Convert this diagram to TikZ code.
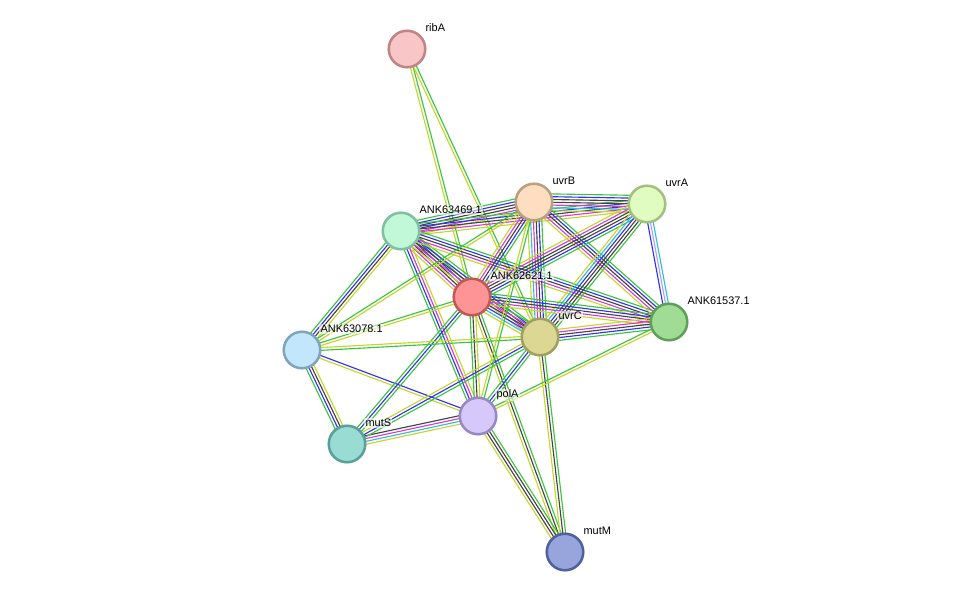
\documentclass[tikz,border=0pt]{standalone}
\usepackage{fontspec}
\setmainfont{Liberation Sans}
\usepackage{tikz}
\usetikzlibrary{calc, backgrounds}
% evidence colours
\definecolor{cTxt}{HTML}{C4D62A}
\definecolor{cNbh}{HTML}{3CC43C}
\definecolor{cCoe}{HTML}{444444}
\definecolor{cExp}{HTML}{D63BD6}
\definecolor{cDb}{HTML}{35BBDD}
\definecolor{cCoo}{HTML}{3333EE}
\definecolor{cHom}{HTML}{A4A4FF}
\tikzstyle{prot} = [circle, minimum size=27.4pt, inner sep=0pt, line width=1.9pt]
\tikzstyle{lbl} = [anchor=west, inner sep=1pt, font=\fontsize{8.2}{10}\selectfont, fill=white, fill opacity=0.55, text opacity=1]
\tikzstyle{ev} = [line width=0.85pt]
\tikzstyle{txt} = [ev, draw=cTxt]
\tikzstyle{nbh} = [ev, draw=cNbh]
\tikzstyle{coe} = [ev, draw=cCoe]
\tikzstyle{expt} = [ev, draw=cExp]
\tikzstyle{dbase} = [ev, draw=cDb]
\tikzstyle{cooc} = [ev, draw=cCoo]
\tikzstyle{homo} = [ev, draw=cHom]
% parallel evidence lines between two proteins
\newcommand{\evlink}[3]{%
  \foreach \c [count=\k] in {#3} {\xdef\nlines{\k}}%
  \foreach \c [count=\i] in {#3} {%
    \pgfmathsetmacro\off{(\i-(\nlines+1)/2)*2.1}%
    \draw[\c] ($(#1)!\off pt!90:(#2)$) -- ($(#2)!\off pt!-90:(#1)$);
  }%
}

\begin{document}
\begin{tikzpicture}[x=0.75pt, y=-0.75pt]
\useasboundingbox (0,0) rectangle (975,598);

% proteins
\node[prot, fill={rgb,255:red,248;green,198;blue,198}, draw={rgb,255:red,192;green,132;blue,132}] (ribA) at (407,49) {};
\node[prot, fill={rgb,255:red,254;green,221;blue,192}, draw={rgb,255:red,186;green,160;blue,126}] (uvrB) at (534,202) {};
\node[prot, fill={rgb,255:red,224;green,252;blue,192}, draw={rgb,255:red,164;green,192;blue,128}] (uvrA) at (647,204) {};
\node[prot, fill={rgb,255:red,192;green,248;blue,216}, draw={rgb,255:red,128;green,192;blue,160}] (n63469) at (401,231) {};
\node[prot, fill={rgb,255:red,255;green,148;blue,148}, draw={rgb,255:red,192;green,88;blue,88}] (n62621) at (472,297) {};
\node[prot, fill={rgb,255:red,160;green,220;blue,148}, draw={rgb,255:red,94;green,160;blue,90}] (n61537) at (669,322) {};
\node[prot, fill={rgb,255:red,220;green,216;blue,148}, draw={rgb,255:red,160;green,160;blue,96}] (uvrC) at (540,337) {};
\node[prot, fill={rgb,255:red,194;green,230;blue,252}, draw={rgb,255:red,128;green,164;blue,192}] (n63078) at (302,350) {};
\node[prot, fill={rgb,255:red,214;green,200;blue,248}, draw={rgb,255:red,152;green,136;blue,200}] (polA) at (478,416) {};
\node[prot, fill={rgb,255:red,152;green,220;blue,212}, draw={rgb,255:red,88;green,160;blue,152}] (mutS) at (347,444) {};
\node[prot, fill={rgb,255:red,152;green,164;blue,220}, draw={rgb,255:red,80;green,96;blue,156}] (mutM) at (565,552) {};

% labels
\node[lbl] (ribA-l) at ([shift={(17,-21)}]ribA.center) {ribA};
\node[lbl] (uvrB-l) at ([shift={(17,-21)}]uvrB.center) {uvrB};
\node[lbl] (uvrA-l) at ([shift={(17,-21)}]uvrA.center) {uvrA};
\node[lbl] (n63469-l) at ([shift={(17,-21)}]n63469.center) {ANK63469.1};
\node[lbl] (n62621-l) at ([shift={(17,-21)}]n62621.center) {ANK62621.1};
\node[lbl] (n61537-l) at ([shift={(17,-21)}]n61537.center) {ANK61537.1};
\node[lbl] (uvrC-l) at ([shift={(17,-21)}]uvrC.center) {uvrC};
\node[lbl] (n63078-l) at ([shift={(17,-21)}]n63078.center) {ANK63078.1};
\node[lbl] (polA-l) at ([shift={(17,-21)}]polA.center) {polA};
\node[lbl] (mutS-l) at ([shift={(17,-21)}]mutS.center) {mutS};
\node[lbl] (mutM-l) at ([shift={(17,-21)}]mutM.center) {mutM};

% interactions
\begin{pgfonlayer}{background}
\evlink{ribA}{n62621}{txt,nbh}
\evlink{ribA}{uvrC}{txt,nbh}
\evlink{n63469}{uvrB}{txt,expt,coe,coe,cooc,nbh}
\evlink{n63469}{uvrA}{txt,expt,coe,cooc,nbh}
\evlink{uvrB}{uvrA}{txt,dbase,expt,coe,coe,cooc,nbh}
\evlink{n63469}{n62621}{txt,expt,coe,coe,cooc,nbh}
\evlink{n63469}{uvrC}{txt,expt,coe,cooc,nbh}
\evlink{n63469}{n61537}{txt,expt,coe,cooc,nbh}
\evlink{n63469}{n63078}{nbh,cooc,coe,txt}
\evlink{n63469}{polA}{nbh,cooc,expt,txt}
\evlink{uvrB}{n62621}{txt,expt,coe,cooc,nbh}
\evlink{uvrB}{uvrC}{txt,dbase,expt,coe,cooc,nbh}
\evlink{uvrB}{n61537}{txt,expt,coe,cooc,nbh}
\evlink{uvrA}{n62621}{txt,expt,coe,coe,cooc,nbh}
\evlink{uvrA}{uvrC}{txt,dbase,cooc,coe,coe,nbh}
\evlink{uvrA}{n61537}{cooc,homo,dbase}
\evlink{n62621}{uvrC}{txt,dbase,cooc,coe,expt,nbh}
\evlink{n62621}{n61537}{txt,expt,coe,cooc,nbh}
\evlink{uvrC}{n61537}{nbh,cooc,coe,expt,txt}
\evlink{n62621}{polA}{nbh,coe,txt}
\evlink{n62621}{mutM}{txt,coe,nbh}
\evlink{uvrC}{mutM}{txt,coe,nbh}
\evlink{polA}{mutM}{txt,coe,coe,nbh}
\evlink{uvrC}{polA}{nbh,cooc,nbh}
\evlink{polA}{mutS}{coe,expt,dbase,txt}
\evlink{n63078}{mutS}{nbh,cooc,coe,txt}
\evlink{n63078}{polA}{txt,cooc}
\evlink{mutS}{n62621}{nbh,cooc,nbh}
\evlink{mutS}{uvrC}{nbh,cooc,txt}
\evlink{n63078}{n62621}{txt,nbh}
\evlink{n63078}{uvrC}{nbh,txt}
\evlink{n63078}{uvrB}{txt,nbh}
\evlink{polA}{n61537}{txt,nbh}
\evlink{polA}{uvrB}{nbh,txt}
\end{pgfonlayer}
\end{tikzpicture}
\end{document}
